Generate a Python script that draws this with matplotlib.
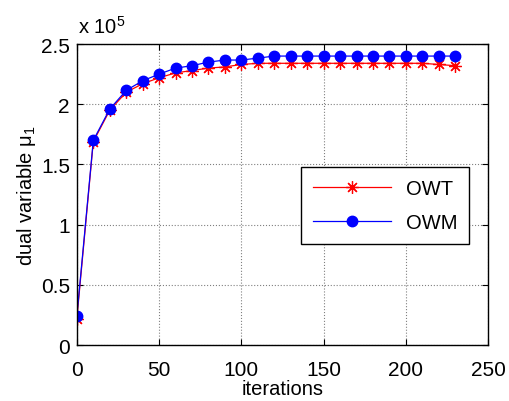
import matplotlib
matplotlib.use("Agg")
import matplotlib.pyplot as plt
from matplotlib.ticker import MultipleLocator

plt.rcParams['font.family'] = ['Liberation Sans', 'DejaVu Sans']
plt.rcParams['mathtext.fontset'] = 'custom'
plt.rcParams['mathtext.rm'] = 'Liberation Sans'
plt.rcParams['mathtext.it'] = 'Liberation Sans'

iterations = [0, 10, 20, 30, 40, 50, 60, 70, 80, 90, 100, 110, 120, 130, 140, 150,
              160, 170, 180, 190, 200, 210, 220, 230]
owt = [0.22, 1.69, 1.95, 2.10, 2.17, 2.22, 2.26, 2.28, 2.30, 2.31, 2.33, 2.34, 2.34,
       2.34, 2.34, 2.34, 2.34, 2.34, 2.34, 2.34, 2.34, 2.34, 2.33, 2.32]
owm = [0.24, 1.70, 1.96, 2.115, 2.195, 2.25, 2.30, 2.32, 2.35, 2.367, 2.367, 2.383, 2.40,
       2.40, 2.40, 2.40, 2.40, 2.40, 2.40, 2.40, 2.40, 2.40, 2.40, 2.40]
ytick_labels = ['0', '0.5', '1', '1.5', '2', '2.5']
scale = 1e5

fig = plt.figure(figsize=(5.09, 4.02), dpi=100)
ax = fig.add_axes([0.151, 0.139, 0.808, 0.749])

ax.plot(iterations, [v * scale for v in owt], color='red', lw=0.9,
        marker=(8, 2, 0), markersize=9, markeredgewidth=0.9, label='OWT')
ax.plot(iterations, [v * scale for v in owm], color='blue', lw=0.9,
        marker='o', markersize=7.5, markerfacecolor='blue', markeredgecolor='blue',
        label='OWM')

ax.set_xlim(0, 250)
ax.set_ylim(0, 2.5e5)
ax.xaxis.set_major_locator(MultipleLocator(50))
ax.set_yticks([float(t) * scale for t in ytick_labels])
ax.set_yticklabels(ytick_labels)
ax.grid(True, linestyle=':', color='#808080', linewidth=0.8)
ax.tick_params(direction='in', top=True, right=True, labelsize=15, length=4, width=0.8)
ax.tick_params(axis='x', pad=11)
ax.tick_params(axis='y', pad=5)
for s in ax.spines.values():
    s.set_linewidth(1.0)

ax.set_xlabel('iterations', fontsize=14.5, labelpad=0)
ax.set_ylabel('dual variable μ$_1$', fontsize=14.5, labelpad=2)
fig.text(0.153, 0.905, 'x 10$^5$', fontsize=14.5, ha='left', va='bottom')

leg = ax.legend(loc='upper left', bbox_to_anchor=(0.52, 0.625), fontsize=14.5,
                frameon=True, fancybox=False, edgecolor='black', framealpha=1,
                handlelength=3.9, borderpad=0.6, labelspacing=0.75, handletextpad=0.7)
leg.get_frame().set_linewidth(1.0)

fig.savefig('out.png', dpi=100)
